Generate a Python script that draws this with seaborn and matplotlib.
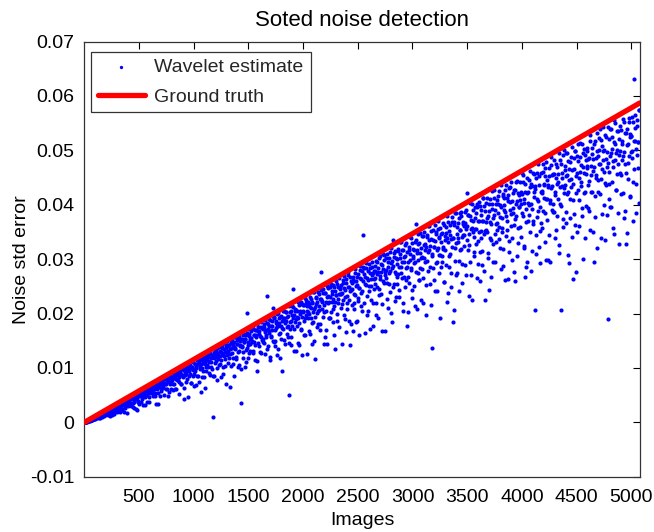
import numpy as np
import pandas as pd
import matplotlib
matplotlib.use("Agg")
import matplotlib.pyplot as plt
import seaborn as sns
from matplotlib.ticker import FuncFormatter, FixedLocator

# ---------------- data ----------------
# sampled image numbers of the sorted set (two interleaved samplings)
images_a = list(range(1, 5072, 6))
images_b = list(range(4, 5075, 6))

# wavelet noise-std estimates, in units of 1e-4
wavelet_est_a_e4 = [
    0, 1, 1, 1, 2, 3, 2, 4, 3, 5, 4, 6, 5, 7, 6, 8, 7,
    9, 8, 12, 10, 12, 8, 15, 13, 11, 16, 10, 17, 16, 14, 21, 14, 19,
    21, 16, 20, 24, 15, 23, 20, 26, 14, 24, 30, 21, 28, 24, 31, 19, 30,
    25, 33, 31, 21, 37, 30, 35, 25, 38, 33, 19, 39, 32, 38, 44, 30, 39,
    44, 35, 42, 30, 45, 49, 35, 43, 27, 50, 43, 48, 22, 53, 40, 49, 53,
    51, 38, 57, 48, 56, 31, 53, 63, 46, 58, 38, 62, 55, 46, 66, 53, 62,
    65, 57, 48, 70, 62, 54, 67, 34, 72, 64, 54, 76, 70, 49, 73, 63, 70,
    63, 77, 73, 50, 83, 71, 62, 80, 76, 48, 85, 71, 81, 62, 90, 78, 59,
    84, 70, 91, 80, 62, 90, 77, 96, 52, 88, 94, 70, 87, 99, 83, 63, 96,
    101, 87, 75, 97, 94, 46, 107, 85, 103, 73, 100, 113, 85, 97, 66, 108, 94,
    99, 114, 86, 107, 74, 113, 98, 120, 107, 84, 114, 95, 120, 64, 110, 121, 102,
    118, 102, 123, 112, 87, 129, 110, 98, 120, 9, 127, 85, 120, 133, 112, 77, 127,
    122, 138, 107, 132, 84, 128, 137, 102, 122, 146, 117, 136, 70, 143, 129, 109, 142,
    143, 125, 104, 149, 137, 119, 143, 85, 156, 136, 117, 151, 144, 102, 158, 131, 143,
    36, 153, 140, 119, 160, 147, 102, 153, 133, 201, 165, 143, 118, 162, 154, 132, 173,
    150, 172, 132, 161, 147, 115, 170, 160, 95, 176, 145, 168, 159, 130, 185, 152, 175,
    172, 146, 181, 126, 169, 160, 232, 180, 140, 168, 190, 114, 177, 158, 186, 211, 150,
    192, 169, 141, 186, 177, 124, 201, 162, 183, 194, 153, 177, 94, 191, 172, 205, 144,
    187, 202, 162, 193, 178, 145, 50, 202, 187, 157, 213, 178, 246, 197, 131, 209, 190,
    206, 178, 221, 192, 143, 205, 199, 169, 218, 124, 203, 215, 186, 161, 224, 197, 214,
    203, 222, 168, 212, 231, 191, 144, 221, 203, 184, 240, 212, 117, 228, 201, 222, 180,
    235, 206, 169, 227, 277, 221, 194, 245, 215, 157, 237, 204, 230, 144, 247, 222, 192,
    231, 252, 203, 241, 184, 226, 248, 214, 135, 260, 234, 200, 249, 226, 175, 246, 235,
    252, 218, 237, 262, 197, 247, 231, 166, 263, 219, 248, 276, 187, 241, 142, 259, 215,
    246, 267, 208, 259, 234, 281, 184, 253, 268, 223, 247, 160, 280, 237, 264, 205, 285,
    344, 272, 165, 255, 283, 233, 266, 204, 291, 250, 275, 224, 264, 286, 177, 275, 245,
    288, 255, 219, 296, 272, 192, 283, 246, 306, 269, 235, 289, 167, 281, 307, 257, 270,
    280, 303, 256, 211, 295, 274, 313, 239, 292, 185, 283, 336, 304, 255, 315, 273, 231,
    300, 255, 318, 286, 230, 310, 274, 332, 295, 205, 317, 267, 305, 248, 330, 286, 177,
    294, 322, 257, 310, 338, 280, 228, 319, 302, 251, 331, 294, 365, 312, 208, 328, 275,
    329, 284, 312, 224, 342, 304, 265, 326, 349, 295, 198, 322, 340, 279, 313, 361, 255,
    325, 352, 137, 309, 335, 262, 322, 363, 293, 346, 242, 321, 355, 307, 338, 191, 286,
    347, 295, 367, 322, 258, 343, 317, 359, 222, 338, 369, 285, 351, 309, 337, 248, 369,
    185, 339, 363, 297, 384, 330, 275, 359, 339, 241, 376, 317, 354, 386, 291, 340, 368,
    361, 325, 386, 270, 355, 421, 381, 317, 346, 403, 294, 372, 225, 357, 390, 341, 313,
    355, 384, 327, 402, 291, 370, 350, 259, 397, 339, 382, 315, 371, 413, 279, 389, 352,
    403, 349, 375, 311, 389, 244, 411, 365, 335, 401, 375, 294, 428, 347, 391, 331, 409,
    366, 402, 337, 425, 378, 281, 396, 357, 420, 319, 390, 413, 262, 379, 437, 353, 407,
    417, 314, 391, 432, 361, 406, 339, 385, 277, 427, 373, 442, 402, 306, 421, 358, 395,
    409, 442, 341, 420, 384, 454, 320, 404, 267, 438, 369, 421, 295, 403, 446, 381, 433,
    439, 401, 315, 459, 370, 423, 206, 434, 344, 411, 459, 388, 322, 452, 293, 424, 367,
    421, 460, 388, 437, 331, 453, 410, 479, 372, 436, 299, 452, 408, 295, 473, 390, 435,
    456, 387, 482, 423, 354, 449, 469, 410, 441, 326, 482, 402, 206, 459, 434, 374, 501,
    431, 472, 386, 453, 495, 419, 307, 466, 446, 375, 488, 432, 464, 263, 408, 486, 363,
    498, 421, 458, 349, 480, 449, 408, 513, 435, 473, 379, 495, 301, 459, 423, 492, 398,
    472, 499, 394, 485, 443, 518, 353, 471, 493, 424, 462, 295, 512, 378, 486, 455, 531,
    445, 489, 522, 419, 474, 338, 508, 465, 542, 400, 500, 440, 485, 524, 381, 190, 476,
    521, 438, 489, 540, 395, 502, 469, 358, 515, 482, 550, 427, 501, 456, 536, 327, 492,
    498, 538, 454, 517, 421, 490, 553, 474, 389, 532, 348, 510, 448, 552, 489, 530, 416,
    526, 486, 562, 441, 632, 517, 541, 385, 502, 555, 468, 515, 574,
]

wavelet_est_b_e4 = [
    0, 1, 2, 1, 3, 2, 4, 3, 5, 4, 6, 5, 7, 8, 7, 9, 8,
    9, 12, 8, 12, 10, 14, 8, 14, 17, 11, 17, 15, 19, 11, 19, 16, 23,
    20, 14, 24, 18, 24, 12, 26, 22, 19, 29, 25, 16, 29, 24, 32, 21, 31,
    33, 24, 30, 19, 35, 33, 23, 39, 31, 37, 27, 40, 35, 17, 43, 38, 33,
    37, 46, 31, 43, 46, 28, 43, 37, 52, 47, 25, 44, 53, 38, 52, 34, 51,
    49, 58, 43, 55, 58, 50, 55, 31, 64, 60, 50, 59, 64, 38, 58, 64, 57,
    68, 53, 65, 62, 72, 49, 66, 71, 61, 34, 73, 65, 71, 78, 58, 74, 71,
    65, 77, 73, 84, 70, 82, 61, 77, 81, 75, 55, 87, 72, 83, 79, 92, 70,
    86, 82, 62, 92, 78, 87, 96, 75, 84, 94, 89, 71, 101, 85, 98, 42, 92,
    94, 102, 88, 79, 99, 109, 94, 88, 105, 73, 102, 99, 110, 89, 97, 108, 69,
    102, 108, 86, 117, 108, 101, 115, 55, 99, 116, 109, 83, 124, 108, 115, 95, 124,
    105, 120, 110, 90, 126, 118, 102, 123, 134, 85, 118, 109, 130, 124, 99, 136, 117,
    105, 140, 122, 130, 114, 140, 89, 123, 134, 130, 104, 142, 123, 149, 132, 140, 119,
    134, 65, 146, 128, 153, 108, 139, 147, 134, 120, 156, 144, 130, 155, 105, 141, 150,
    98, 153, 139, 129, 162, 147, 153, 111, 161, 136, 147, 171, 158, 127, 144, 167, 155,
    147, 173, 127, 160, 169, 143, 156, 113, 181, 167, 140, 163, 176, 127, 157, 173, 153,
    147, 175, 166, 189, 157, 183, 135, 171, 177, 164, 120, 189, 156, 178, 169, 196, 148,
    193, 149, 182, 173, 200, 135, 178, 191, 165, 118, 195, 173, 186, 204, 152, 192, 182,
    187, 203, 176, 157, 196, 214, 184, 172, 205, 142, 198, 192, 212, 171, 185, 205, 132,
    204, 194, 145, 215, 182, 203, 222, 172, 193, 215, 204, 160, 228, 192, 220, 125, 205,
    191, 218, 200, 162, 227, 211, 183, 219, 239, 150, 209, 193, 230, 218, 175, 239, 205,
    213, 226, 180, 243, 223, 209, 237, 144, 203, 237, 222, 169, 251, 219, 232, 191, 249,
    192, 255, 222, 236, 208, 253, 161, 222, 242, 234, 187, 254, 220, 266, 235, 249, 211,
    236, 144, 257, 225, 269, 190, 243, 257, 233, 209, 270, 249, 224, 267, 180, 243, 257,
    167, 261, 236, 220, 275, 250, 259, 187, 272, 229, 247, 288, 266, 214, 241, 279, 259,
    283, 219, 267, 253, 292, 197, 261, 279, 241, 172, 284, 251, 270, 295, 220, 278, 264,
    279, 265, 197, 294, 248, 276, 302, 234, 263, 291, 276, 217, 309, 259, 298, 168, 277,
    265, 310, 227, 286, 302, 255, 278, 201, 321, 296, 248, 287, 311, 223, 276, 303, 267,
    291, 315, 272, 243, 303, 331, 285, 265, 316, 219, 304, 294, 326, 262, 283, 314, 202,
    267, 316, 299, 341, 283, 329, 243, 306, 317, 293, 213, 336, 277, 316, 299, 346, 262,
    262, 348, 302, 321, 282, 343, 219, 302, 328, 317, 253, 344, 297, 360, 317, 336, 285,
    216, 337, 305, 284, 354, 322, 333, 241, 349, 294, 317, 370, 341, 274, 308, 358, 332,
    306, 348, 319, 258, 362, 336, 290, 348, 380, 238, 331, 305, 363, 344, 275, 377, 323,
    339, 207, 368, 321, 385, 271, 347, 367, 332, 297, 385, 354, 318, 379, 256, 344, 365,
    345, 366, 290, 391, 360, 336, 381, 232, 326, 379, 355, 270, 402, 349, 370, 305, 396,
    376, 356, 265, 395, 333, 371, 405, 314, 352, 390, 370, 290, 413, 346, 398, 225, 369,
    353, 413, 303, 380, 402, 339, 369, 267, 426, 393, 328, 381, 412, 295, 365, 401, 353,
    384, 416, 359, 320, 400, 436, 375, 349, 416, 288, 400, 387, 427, 343, 371, 412, 264,
    431, 333, 405, 383, 442, 298, 394, 422, 363, 259, 428, 379, 407, 444, 330, 418, 395,
    359, 424, 402, 458, 380, 441, 325, 410, 424, 392, 285, 449, 370, 423, 400, 462, 349,
    279, 435, 393, 365, 456, 414, 429, 310, 449, 378, 407, 475, 437, 351, 395, 459, 425,
    358, 475, 413, 438, 385, 468, 298, 411, 446, 432, 344, 467, 404, 488, 430, 455, 386,
    402, 457, 418, 339, 474, 439, 380, 456, 496, 311, 432, 398, 474, 449, 359, 491, 421,
    437, 463, 367, 495, 454, 424, 481, 292, 411, 478, 448, 340, 506, 439, 466, 383, 498,
    452, 276, 490, 428, 512, 361, 461, 488, 441, 394, 511, 469, 422, 502, 339, 456, 483,
    468, 505, 437, 389, 486, 529, 455, 424, 505, 349, 484, 469, 518, 416, 449, 498, 320,
    424, 500, 474, 540, 448, 519, 383, 482, 499, 461, 336, 529, 436, 497, 470, 543, 410,
    461, 539, 395, 496, 524, 441, 481, 347, 555, 511, 427, 495, 535, 384, 474, 520, 458,
    544, 420, 511, 483, 558, 376, 497, 532, 458, 327, 539, 477, 512, 559, 415, 525, 497,
    526, 498, 371, 552, 465, 518, 565, 438, 491, 544, 515, 404, 575,
]

# ground-truth noise std (red line)
truth_images = [1, 2500, 5077]
truth_sigma = [0.0, 0.0289, 0.0587]

x_ticks = [500, 1000, 1500, 2000, 2500, 3000, 3500, 4000, 4500, 5000]
y_ticks = [-0.01, 0.0, 0.01, 0.02, 0.03, 0.04, 0.05, 0.06, 0.07]

title = "Soted noise detection"
x_label = "Images"
y_label = "Noise std error"
est_label = "Wavelet estimate"
truth_label = "Ground truth"

# ---------------- plot ----------------
sns.set_theme(style="white")
plt.rcParams["font.family"] = ["Liberation Sans", "DejaVu Sans"]
plt.rcParams["axes.unicode_minus"] = False

est_df = pd.DataFrame({
    "image": images_a[:len(wavelet_est_a_e4)] + images_b[:len(wavelet_est_b_e4)],
    "sigma": np.array(wavelet_est_a_e4[:len(images_a)] + wavelet_est_b_e4[:len(images_b)]) * 1e-4,
})
truth_df = pd.DataFrame({"image": truth_images, "sigma": truth_sigma})

fig = plt.figure(figsize=(6.54, 5.32), dpi=100)
ax = fig.add_axes([0.1289, 0.1039, 0.8492, 0.818])

sns.scatterplot(data=est_df, x="image", y="sigma", ax=ax, color=(0, 0, 1),
                marker="o", s=9, linewidth=0, label=est_label, zorder=2)
sns.lineplot(data=truth_df, x="image", y="sigma", ax=ax, color=(1, 0, 0),
             linewidth=3.8, estimator=None, label=truth_label, zorder=3)

ax.set_xlim(0, 5077)
ax.set_ylim(-0.01, 0.07)
ax.xaxis.set_major_locator(FixedLocator(x_ticks))
ax.yaxis.set_major_locator(FixedLocator(y_ticks))
ax.yaxis.set_major_formatter(FuncFormatter(lambda v, p: f"{round(v, 4):g}"))
ax.xaxis.set_major_formatter(FuncFormatter(lambda v, p: f"{int(v)}"))

ax.tick_params(axis="x", which="major", pad=9)
ax.tick_params(axis="y", which="major", pad=7)
ax.tick_params(axis="both", which="major", direction="in", length=5, width=0.8,
               top=True, right=True, labelsize=14, colors="black")
for sp in ax.spines.values():
    sp.set_visible(True)
    sp.set_color("#333333")
    sp.set_linewidth(0.9)

ax.set_title(title, fontsize=16, pad=11, color="black")
ax.set_xlabel(x_label, fontsize=14, labelpad=4, color="black")
ax.set_ylabel(y_label, fontsize=14, labelpad=0, color="black")

leg = ax.legend(loc="upper left", bbox_to_anchor=(0.0126, 0.976), borderaxespad=0,
                fontsize=14, frameon=True, fancybox=False, framealpha=1,
                edgecolor="#333333", borderpad=0.35, labelspacing=0.6,
                handlelength=2.4, handletextpad=0.5, markerscale=0.8)
leg.get_frame().set_linewidth(0.9)

fig.savefig("out.png", dpi=100)
